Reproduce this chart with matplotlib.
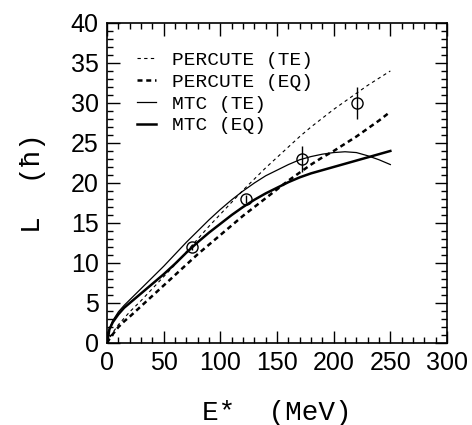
import matplotlib
matplotlib.use('Agg')
import matplotlib.pyplot as plt
from matplotlib.ticker import MultipleLocator

# curves (E* in MeV)
e_curve = [0, 2, 5, 10, 15, 20, 30, 40, 50, 60, 70, 80, 90, 100, 110, 120, 130,
           140, 150, 160, 170, 180, 190, 200, 210, 220, 230, 240, 250]
percute_te = [0, 0.6, 1.3, 2.3, 3.1, 3.9, 5.3, 6.8, 8.3, 9.8, 11.4, 13.0, 14.6, 16.1,
              17.6, 19.1, 20.5, 21.9, 23.2, 24.5, 25.8, 27.0, 28.1, 29.2, 30.2, 31.2,
              32.2, 33.1, 34.0]
percute_eq = [0, 0.5, 1.1, 2.0, 2.7, 3.3, 4.6, 5.9, 7.2, 8.5, 9.8, 11.1, 12.3, 13.5,
              14.7, 15.9, 17.0, 18.1, 19.2, 20.3, 21.3, 22.3, 23.2, 24.0, 24.9, 25.8,
              26.8, 27.8, 28.9]
mtc_te = [0, 1.8, 2.8, 3.9, 4.7, 5.4, 6.8, 8.2, 9.6, 11.1, 12.6, 14.0, 15.4, 16.7,
          17.9, 19.0, 20.0, 20.9, 21.6, 22.3, 22.9, 23.3, 23.6, 23.8, 23.9, 23.8,
          23.4, 22.9, 22.3]
mtc_eq = [0, 1.7, 2.6, 3.6, 4.4, 5.0, 6.2, 7.4, 8.6, 9.9, 11.3, 12.6, 13.8, 14.9,
          16.0, 17.0, 17.9, 18.7, 19.4, 20.1, 20.7, 21.2, 21.6, 22.0, 22.4, 22.8,
          23.2, 23.6, 24.0]

# data points
e_data = [75, 123, 172, 221]
l_data = [12, 18, 23, 30]
l_err = [0.4, 0.5, 1.6, 2.0]

mono = 'Liberation Mono'
sans = 'Liberation Sans'

fig = plt.figure(figsize=(4.72, 4.25), dpi=100)
ax = fig.add_axes([0.227, 0.193, 0.720, 0.753])

ax.plot(e_curve, percute_te, color='black', lw=0.8, ls=(0, (3, 3)), label='PERCUTE (TE)')
ax.plot(e_curve, percute_eq, color='black', lw=1.8, ls=(0, (2, 1.5)), label='PERCUTE (EQ)')
ax.plot(e_curve, mtc_te, color='black', lw=0.9, label='MTC (TE)')
ax.plot(e_curve, mtc_eq, color='black', lw=1.8, label='MTC (EQ)')
ax.errorbar(e_data, l_data, yerr=l_err, fmt='o', mfc='none', mec='black',
            ecolor='black', ms=8, mew=1.0, elinewidth=1.0, capsize=0)

ax.set_xlim(0, 300)
ax.set_ylim(0, 40)
ax.xaxis.set_major_locator(MultipleLocator(50))
ax.xaxis.set_minor_locator(MultipleLocator(10))
ax.yaxis.set_major_locator(MultipleLocator(5))
ax.yaxis.set_minor_locator(MultipleLocator(1))
ax.tick_params(which='both', direction='in', top=True, right=True, width=1.0)
ax.tick_params(which='major', length=9, labelsize=18, pad=6)
ax.tick_params(which='minor', length=4.5)
for lab in ax.get_xticklabels() + ax.get_yticklabels():
    lab.set_family(sans)
for s in ax.spines.values():
    s.set_linewidth(1.2)

ax.set_xlabel('E*  (MeV)', family=mono, fontsize=20, labelpad=18)
ax.set_ylabel('L  (ħ)', family=[mono, 'DejaVu Sans'], fontsize=20, labelpad=18)

ax.legend(loc='upper left', bbox_to_anchor=(0.088, 0.912), frameon=False,
          prop={'family': mono, 'size': 14}, handlelength=1.0,
          handletextpad=0.8, labelspacing=0.22, borderaxespad=0, borderpad=0)

fig.savefig('out.png', dpi=100)
